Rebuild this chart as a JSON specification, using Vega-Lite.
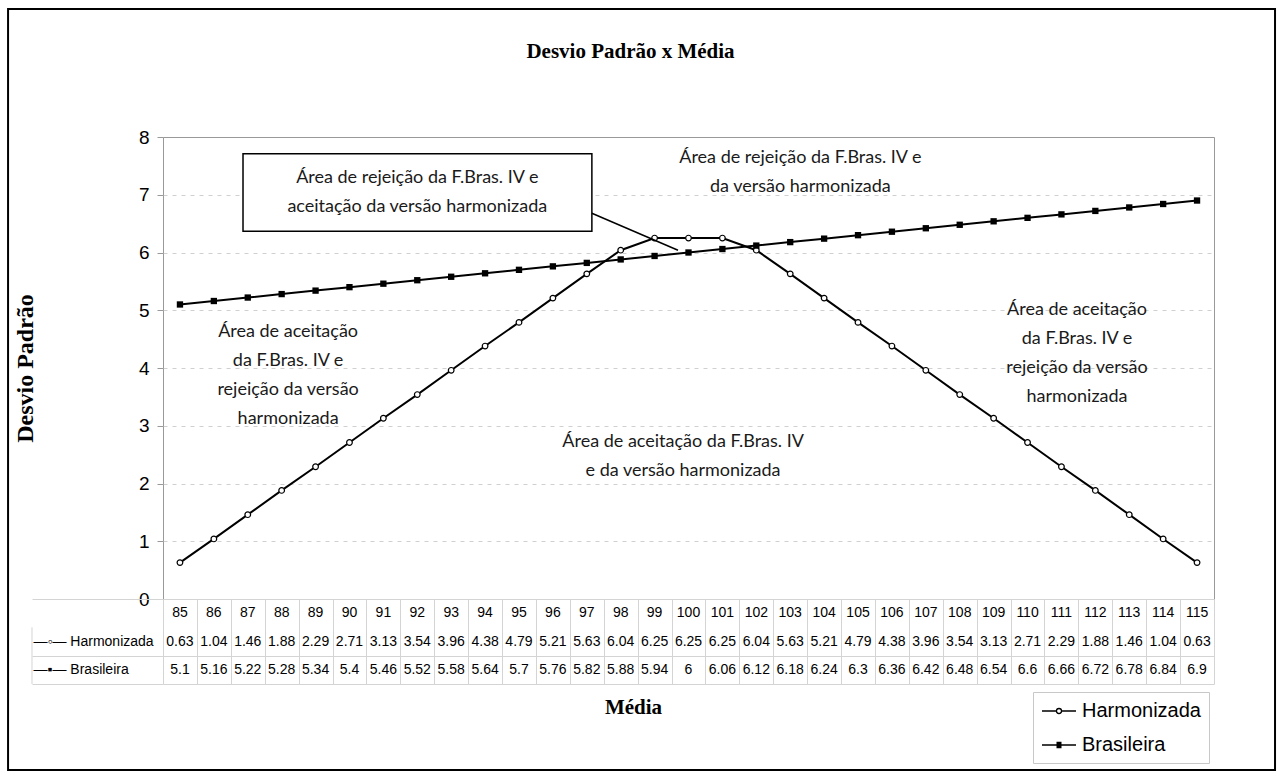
{
  "$schema": "https://vega.github.io/schema/vega-lite/v6.json",
  "background": "white",
  "padding": {"left": 7, "top": 8, "right": 5, "bottom": 5},
  "bounds": "flush",
  "spacing": 0,
  "config": {"view": {"stroke": "#999999"}},
  "datasets": {
    "d": [
      {"Media": 85, "Harmonizada": 0.63, "Brasileira": 5.1},
      {"Media": 86, "Harmonizada": 1.04, "Brasileira": 5.16},
      {"Media": 87, "Harmonizada": 1.46, "Brasileira": 5.22},
      {"Media": 88, "Harmonizada": 1.88, "Brasileira": 5.28},
      {"Media": 89, "Harmonizada": 2.29, "Brasileira": 5.34},
      {"Media": 90, "Harmonizada": 2.71, "Brasileira": 5.4},
      {"Media": 91, "Harmonizada": 3.13, "Brasileira": 5.46},
      {"Media": 92, "Harmonizada": 3.54, "Brasileira": 5.52},
      {"Media": 93, "Harmonizada": 3.96, "Brasileira": 5.58},
      {"Media": 94, "Harmonizada": 4.38, "Brasileira": 5.64},
      {"Media": 95, "Harmonizada": 4.79, "Brasileira": 5.7},
      {"Media": 96, "Harmonizada": 5.21, "Brasileira": 5.76},
      {"Media": 97, "Harmonizada": 5.63, "Brasileira": 5.82},
      {"Media": 98, "Harmonizada": 6.04, "Brasileira": 5.88},
      {"Media": 99, "Harmonizada": 6.25, "Brasileira": 5.94},
      {"Media": 100, "Harmonizada": 6.25, "Brasileira": 6},
      {"Media": 101, "Harmonizada": 6.25, "Brasileira": 6.06},
      {"Media": 102, "Harmonizada": 6.04, "Brasileira": 6.12},
      {"Media": 103, "Harmonizada": 5.63, "Brasileira": 6.18},
      {"Media": 104, "Harmonizada": 5.21, "Brasileira": 6.24},
      {"Media": 105, "Harmonizada": 4.79, "Brasileira": 6.3},
      {"Media": 106, "Harmonizada": 4.38, "Brasileira": 6.36},
      {"Media": 107, "Harmonizada": 3.96, "Brasileira": 6.42},
      {"Media": 108, "Harmonizada": 3.54, "Brasileira": 6.48},
      {"Media": 109, "Harmonizada": 3.13, "Brasileira": 6.54},
      {"Media": 110, "Harmonizada": 2.71, "Brasileira": 6.6},
      {"Media": 111, "Harmonizada": 2.29, "Brasileira": 6.66},
      {"Media": 112, "Harmonizada": 1.88, "Brasileira": 6.72},
      {"Media": 113, "Harmonizada": 1.46, "Brasileira": 6.78},
      {"Media": 114, "Harmonizada": 1.04, "Brasileira": 6.84},
      {"Media": 115, "Harmonizada": 0.63, "Brasileira": 6.9}
    ]
  },
  "vconcat": [
    {
      "width": 1051,
      "height": 462,
      "title": {"text": "Desvio Padrão x Média", "font": "Liberation Serif", "fontSize": 21, "fontWeight": "bold", "color": "black", "offset": 66, "dx": -58},
      "encoding": {
        "x": {"field": "Media", "type": "quantitative", "scale": {"domain": [84.5, 115.5], "nice": false, "zero": false}, "axis": null},
        "y": {"field": "Desvio", "type": "quantitative", "scale": {"domain": [0, 8], "nice": false, "zero": false},
          "axis": {"title": "Desvio Padrão", "titleFont": "Liberation Serif", "titleFontSize": 24, "titleFontWeight": "bold", "titleColor": "black", "titlePadding": 101,
            "values": [0, 1, 2, 3, 4, 5, 6, 7, 8], "labelFont": "Liberation Sans", "labelFontSize": 19, "labelColor": "black", "labelPadding": 8,
            "tickSize": 6, "tickColor": "#999999", "domain": false, "grid": true, "gridDash": [4, 5],
            "gridColor": {"condition": {"test": "datum.value == 0 || datum.value == 8", "value": "transparent"}, "value": "#d0d0d0"}}}
      },
      "layer": [
        {
          "data": {"name": "d"},
          "transform": [{"fold": ["Harmonizada", "Brasileira"], "as": ["Serie", "Desvio"]}],
          "layer": [
            {
              "mark": {"type": "line", "color": "black", "strokeWidth": 2},
              "encoding": {"detail": {"field": "Serie", "type": "nominal"}}
            },
            {
              "transform": [{"filter": "datum.Serie === 'Harmonizada'"}],
              "mark": {"type": "point", "shape": "circle", "size": 32, "filled": true, "fill": "white", "stroke": "black", "strokeWidth": 1.2, "opacity": 1}
            },
            {
              "transform": [{"filter": "datum.Serie === 'Brasileira'"}],
              "mark": {"type": "point", "shape": "square", "size": 40, "filled": true, "fill": "black", "opacity": 1}
            },
            {
              "transform": [{"filter": "false"}],
              "mark": {"type": "point", "filled": false, "color": "black", "strokeWidth": 1.3, "opacity": 1},
              "encoding": {
                "shape": {"field": "Serie", "type": "nominal",
                  "scale": {"domain": ["Harmonizada", "Brasileira"], "range": [
                    "M-1.7,0H-0.25M0.25,0H1.7M-0.25,0A0.25,0.25,0,1,0,0.25,0A0.25,0.25,0,1,0,-0.25,0Z",
                    "M-1.7,0H1.7M-0.25,-0.25H0.25M-0.25,-0.15H0.25M-0.25,-0.05H0.25M-0.25,0.05H0.25M-0.25,0.15H0.25M-0.25,0.25H0.25"]},
                  "legend": {"title": null, "orient": "none", "legendX": 870, "legendY": 555, "symbolSize": 400, "symbolOffset": 7,
                    "symbolStrokeColor": "black", "symbolStrokeWidth": 1.3,
                    "labelFont": "Liberation Sans", "labelFontSize": 20, "labelColor": "black", "labelOffset": 12, "rowPadding": 13, "padding": 8, "strokeColor": "#c8c8c8"}}
              }
            }
          ]
        },
        {
          "data": {"values": [{"Media": 86.86, "Media2": 97.15, "Desvio": 7.71, "Desvio2": 6.37}]},
          "mark": {"type": "rect", "fill": "white", "stroke": "black", "strokeWidth": 1.5},
          "encoding": {"x2": {"field": "Media2"}, "y2": {"field": "Desvio2"}}
        },
        {
          "data": {"values": [{"Media": 97.15, "Media2": 99.69, "Desvio": 6.68, "Desvio2": 6.04}]},
          "mark": {"type": "rule", "color": "black", "strokeWidth": 1.5},
          "encoding": {"x2": {"field": "Media2"}, "y2": {"field": "Desvio2"}}
        },
        {
          "data": {"values": [
            {"Media": 92.0, "Desvio": 7.29, "t": "Área de rejeição da F.Bras. IV e\naceitação da versão harmonizada"},
            {"Media": 103.3, "Desvio": 7.64, "t": "Área de rejeição da F.Bras. IV e\nda versão harmonizada"},
            {"Media": 88.19, "Desvio": 4.62, "t": "Área de aceitação\nda F.Bras. IV e\nrejeição da versão\nharmonizada"},
            {"Media": 111.46, "Desvio": 5.0, "t": "Área de aceitação\nda F.Bras. IV e\nrejeição da versão\nharmonizada"},
            {"Media": 99.84, "Desvio": 2.72, "t": "Área de aceitação da F.Bras. IV\ne da versão harmonizada"}
          ]},
          "mark": {"type": "text", "font": "Lato", "fontSize": 18, "lineHeight": 29, "lineBreak": "\n", "align": "center", "baseline": "middle", "color": "#1a1a1a"},
          "encoding": {"text": {"field": "t", "type": "nominal"}}
        }
      ]
    },
    {
      "width": 1051,
      "height": 85,
      "view": {"stroke": null},
      "resolve": {"scale": {"x": "independent", "y": "independent"}},
      "layer": [
        {
          "data": {"name": "d"},
          "transform": [{"fold": ["Harmonizada", "Brasileira"], "as": ["Serie", "Valor"]}],
          "layer": [
            {
              "mark": {"type": "text", "font": "Liberation Sans", "fontSize": 14, "color": "black"},
              "encoding": {
                "x": {"field": "Media", "type": "ordinal", "scale": {"type": "band", "paddingInner": 0, "paddingOuter": 0},
                  "axis": {"title": "Média", "titleFont": "Liberation Serif", "titleFontSize": 21, "titleFontWeight": "bold", "titleColor": "black", "titlePadding": 12, "titleX": 470,
                    "labels": false, "ticks": false, "domain": false, "grid": true, "tickBand": "extent", "gridColor": "#d4d4d4"}},
                "y": {"field": "Serie", "type": "nominal", "scale": {"type": "band", "domain": ["Média", "Harmonizada", "Brasileira"], "paddingInner": 0, "paddingOuter": 0},
                  "axis": {"title": null, "offset": 131, "tickSize": -131, "tickBand": "extent", "domain": false,
                    "tickColor": {"condition": {"test": "datum.value === 'Média'", "value": "transparent"}, "value": "#d4d4d4"},
                    "labelAlign": "left", "labelPadding": 130, "labelFont": "Liberation Sans", "labelFontSize": 14, "labelColor": "black",
                    "labelExpr": "datum.value === 'Harmonizada' ? '—◦— Harmonizada' : datum.value === 'Brasileira' ? '—▪— Brasileira' : ''",
                    "grid": true, "gridColor": {"condition": {"test": "datum.value === 'Média'", "value": "transparent"}, "value": "#d4d4d4"}}},
                "text": {"field": "Valor", "type": "nominal"}
              }
            },
            {
              "transform": [{"filter": "datum.Serie === 'Harmonizada'"}],
              "mark": {"type": "text", "font": "Liberation Sans", "fontSize": 14, "color": "black"},
              "encoding": {
                "x": {"field": "Media", "type": "ordinal"},
                "y": {"datum": "Média", "type": "nominal"},
                "text": {"field": "Media", "type": "nominal"}
              }
            }
          ]
        },
        {
          "data": {"values": [{"fx": 80.636, "fy": 0.667, "fy2": 0}]},
          "mark": {"type": "rule", "color": "#d4d4d4", "strokeWidth": 1},
          "encoding": {
            "x": {"field": "fx", "type": "quantitative", "scale": {"domain": [84.5, 115.5], "nice": false, "zero": false}, "axis": null},
            "y": {"field": "fy", "type": "quantitative", "scale": {"domain": [0, 1], "nice": false, "zero": false}, "axis": null},
            "y2": {"field": "fy2"}
          }
        },
        {
          "data": {"values": [{"fx": 79.93, "fx2": 117.3, "fy": 7.941, "fy2": -1.012}]},
          "mark": {"type": "rect", "fill": null, "fillOpacity": 0, "stroke": "black", "strokeWidth": 2},
          "encoding": {
            "x": {"field": "fx", "type": "quantitative", "scale": {"domain": [84.5, 115.5], "nice": false, "zero": false}, "axis": null},
            "x2": {"field": "fx2"},
            "y": {"field": "fy", "type": "quantitative", "scale": {"domain": [0, 1], "nice": false, "zero": false}, "axis": null},
            "y2": {"field": "fy2"}
          }
        }
      ]
    }
  ]
}
